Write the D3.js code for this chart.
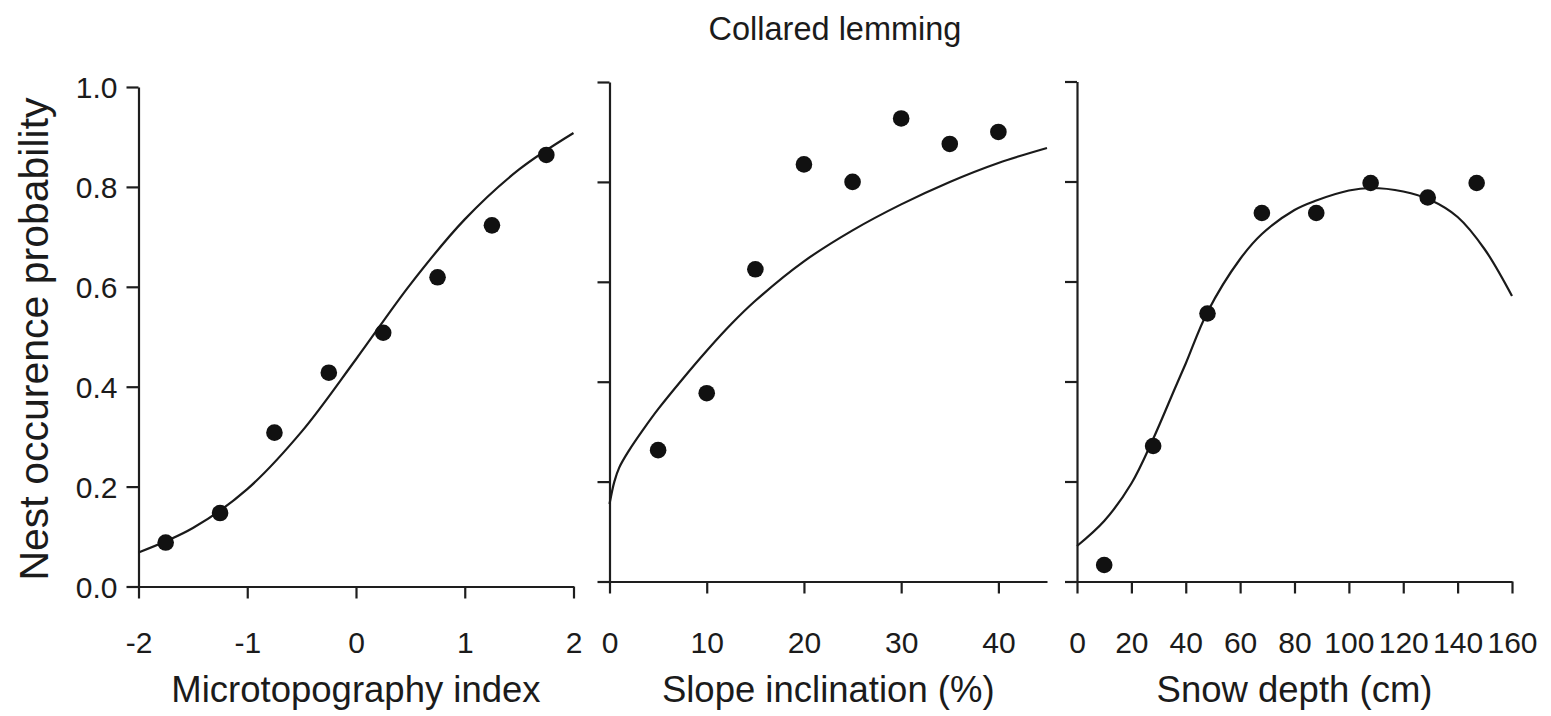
<!DOCTYPE html>
<html>
<head>
<meta charset="utf-8">
<script src="https://cdn.jsdelivr.net/npm/d3@7"></script>
<style>
  body { margin: 0; background: #fff; }
  svg text { font-family: "Liberation Sans", Arial, Helvetica, sans-serif; fill: #1b1b1b; }
  .axis .domain, .axis .tick line { stroke: #1e1e1e; stroke-width: 2.2; }
</style>
</head>
<body>
<svg id="chart" width="1551" height="716"></svg>
<script>
// ---- shared y scale values ----
const probTicks = [0, 0.2, 0.4, 0.6, 0.8, 1.0];

// ---- Microtopography index ----
const microTicks = [-2, -1, 0, 1, 2];
const microX = [-1.75, -1.25, -0.75, -0.25, 0.25, 0.75, 1.25, 1.75];
const microP = [0.088, 0.147, 0.308, 0.428, 0.508, 0.619, 0.723, 0.864];
const microFitX = [-2, -1.5, -1, -0.5, 0, 0.5, 1, 1.5, 2];
const microFitP = [0.068, 0.117, 0.195, 0.31, 0.455, 0.605, 0.735, 0.835, 0.908];

// ---- Slope inclination (%) ----
const slopeTicks = [0, 10, 20, 30, 40];
const slopeX = [5, 10, 15, 20, 25, 30, 35, 40];
const slopeP = [0.263, 0.377, 0.625, 0.835, 0.80, 0.927, 0.876, 0.90];
const slopeFitX = [0, 0.5, 1, 2, 3.5, 5, 7.5, 10, 12.5, 15, 20, 25, 30, 35, 40, 45];
const slopeFitP = [0.155, 0.2, 0.228, 0.262, 0.305, 0.345, 0.405, 0.462, 0.515, 0.562, 0.641, 0.703, 0.755, 0.8, 0.838, 0.868];

// ---- Snow depth (cm) ----
const snowTicks = [0, 20, 40, 60, 80, 100, 120, 140, 160];
const snowX = [10, 28, 48, 68, 88, 108, 129, 147];
const snowP = [0.033, 0.271, 0.536, 0.737, 0.737, 0.797, 0.768, 0.797];
const snowFitX = [0, 10, 20, 28, 36, 40, 48, 60, 68, 80, 88, 100, 108, 120, 130, 140, 150, 160];
const snowFitP = [0.071, 0.121, 0.196, 0.285, 0.386, 0.436, 0.539, 0.645, 0.695, 0.743, 0.762, 0.782, 0.787, 0.78, 0.763, 0.729, 0.664, 0.571];

const svg = d3.select("#chart");

const panels = [
  { label: "Microtopography index", domain: [-2, 2], ticks: microTicks,
    xs: microX, ps: microP, fx: microFitX, fp: microFitP,
    left: 138.5, right: 573.5, top: 87, bottom: 586.5, yLabels: true },
  { label: "Slope inclination (%)", domain: [0, 45], ticks: slopeTicks,
    xs: slopeX, ps: slopeP, fx: slopeFitX, fp: slopeFitP,
    left: 609.5, right: 1047, top: 82, bottom: 581.5, yLabels: false },
  { label: "Snow depth (cm)", domain: [0, 160], ticks: snowTicks,
    xs: snowX, ps: snowP, fx: snowFitX, fp: snowFitP,
    left: 1077, right: 1512, top: 81.5, bottom: 581.5, yLabels: false }
];

const tickLabelBaseline = 653;

panels.forEach(p => {
  const x = d3.scaleLinear().domain(p.domain).range([p.left, p.right]);
  const y = d3.scaleLinear().domain([0, 1]).range([p.bottom, p.top]);
  const g = svg.append("g");

  // x axis (plain hyphen for negative values)
  const xa = g.append("g")
    .attr("class", "axis")
    .attr("transform", `translate(0,${p.bottom})`)
    .call(d3.axisBottom(x).tickValues(p.ticks).tickSize(12).tickSizeOuter(0)
      .tickFormat(d => String(d)));
  xa.selectAll(".tick text")
    .attr("dy", null)
    .attr("y", tickLabelBaseline - p.bottom)
    .style("font-size", "30px");

  // y axis
  const ya = g.append("g")
    .attr("class", "axis")
    .attr("transform", `translate(${p.left},0)`)
    .call(d3.axisLeft(y).tickValues(probTicks).tickSize(12).tickSizeOuter(0).tickPadding(9)
      .tickFormat(p.yLabels ? d3.format(".1f") : () => ""));
  ya.selectAll(".tick text")
    .attr("dy", "0.36em")
    .style("font-size", "30px");
  g.selectAll(".axis").attr("font-family", null).attr("font-size", null);

  // fitted curve
  const line = d3.line()
    .x((d, i) => x(p.fx[i]))
    .y((d, i) => y(p.fp[i]))
    .curve(d3.curveCatmullRom.alpha(0.5));
  g.append("path")
    .datum(p.fx)
    .attr("d", line)
    .attr("fill", "none")
    .attr("stroke", "#1a1a1a")
    .attr("stroke-width", 2.2);

  // observed points
  g.selectAll("circle.obs")
    .data(p.xs)
    .join("circle")
    .attr("class", "obs")
    .attr("cx", d => x(d))
    .attr("cy", (d, i) => y(p.ps[i]))
    .attr("r", 8.3)
    .attr("fill", "#111");

  // x axis title
  g.append("text")
    .attr("x", (p.left + p.right) / 2)
    .attr("y", 702)
    .attr("text-anchor", "middle")
    .style("font-size", "36.5px")
    .text(p.label);
});

// y axis title
svg.append("text")
  .attr("transform", "translate(48,339) rotate(-90)")
  .attr("text-anchor", "middle")
  .style("font-size", "41px")
  .text("Nest occurence probability");

// chart title
svg.append("text")
  .attr("x", 835)
  .attr("y", 40)
  .attr("text-anchor", "middle")
  .style("font-size", "32.5px")
  .text("Collared lemming");
</script>
</body>
</html>
